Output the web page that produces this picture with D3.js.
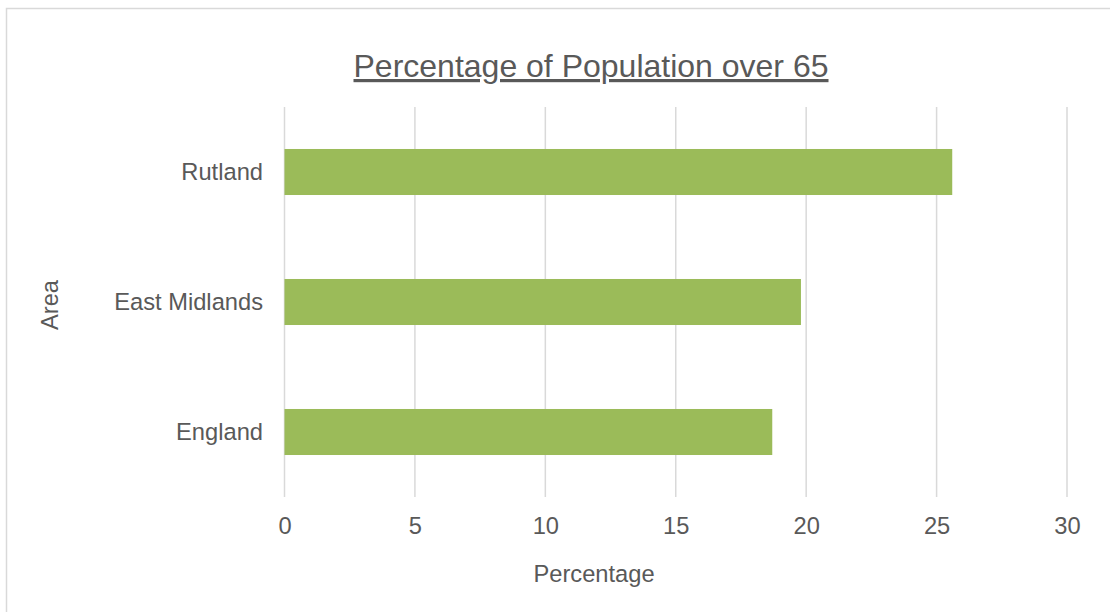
<!DOCTYPE html>
<html>
<head>
<meta charset="utf-8">
<script src="https://cdn.jsdelivr.net/npm/d3@7"></script>
<style>
  html, body { margin: 0; padding: 0; background: #fff; }
  svg { display: block; }
  text { font-family: "Liberation Sans", Arial, sans-serif; fill: #595959; }
</style>
</head>
<body>
<svg id="chart" width="1110" height="612"></svg>
<script>
const categories = ["Rutland", "East Midlands", "England"];
const values = [25.6, 19.8, 18.7];
const xTicks = [0, 5, 10, 15, 20, 25, 30];
const titleText = "Percentage of Population over 65";
const xAxisTitle = "Percentage";
const yAxisTitle = "Area";

const svg = d3.select("#chart");

// outer chart border
svg.append("rect")
  .attr("x", 6.5).attr("y", 8.5)
  .attr("width", 1120).attr("height", 620)
  .attr("fill", "#fff")
  .attr("stroke", "#D9D9D9").attr("stroke-width", 1.5);

const x = d3.scaleLinear().domain([0, 30]).range([284.5, 1067]);
const y = d3.scaleBand().domain(categories).range([107, 497])
  .paddingInner(0.646).paddingOuter(0.323);

// gridlines
svg.append("g").selectAll("line").data(xTicks).join("line")
  .attr("x1", d => x(d)).attr("x2", d => x(d))
  .attr("y1", 107).attr("y2", 497)
  .attr("stroke", "#D9D9D9").attr("stroke-width", 1.5);

// bars
svg.append("g").selectAll("rect").data(categories).join("rect")
  .attr("x", x(0))
  .attr("y", d => y(d))
  .attr("width", (d, i) => x(values[i]) - x(0))
  .attr("height", y.bandwidth())
  .attr("fill", "#9BBB59");

// x axis tick labels
const xAxis = d3.axisBottom(x).tickValues(xTicks).tickSize(0).tickPadding(0);
const gx = svg.append("g").attr("transform", "translate(0,534)").call(xAxis);
gx.select(".domain").remove();
gx.selectAll("text")
  .attr("dy", null).attr("y", 0)
  .style("font-size", "23.7px")
  .style("font-family", "'Liberation Sans', Arial, sans-serif")
  .attr("fill", "#595959");

// y axis category labels
const yAxis = d3.axisLeft(y).tickSize(0).tickPadding(0);
const gy = svg.append("g").attr("transform", "translate(263,0)").call(yAxis);
gy.select(".domain").remove();
gy.selectAll("text")
  .attr("dy", "0.35em")
  .style("font-size", "23.7px")
  .style("font-family", "'Liberation Sans', Arial, sans-serif")
  .attr("fill", "#595959");

// title
svg.append("text")
  .attr("x", 591).attr("y", 77)
  .attr("text-anchor", "middle")
  .style("font-size", "32px")
  .style("text-decoration", "underline")
  .text(titleText);

// axis titles
svg.append("text")
  .attr("x", 594).attr("y", 582)
  .attr("text-anchor", "middle")
  .style("font-size", "23.7px")
  .text(xAxisTitle);

svg.append("text")
  .attr("transform", "translate(58,305) rotate(-90)")
  .attr("text-anchor", "middle")
  .style("font-size", "23.7px")
  .text(yAxisTitle);
</script>
</body>
</html>
